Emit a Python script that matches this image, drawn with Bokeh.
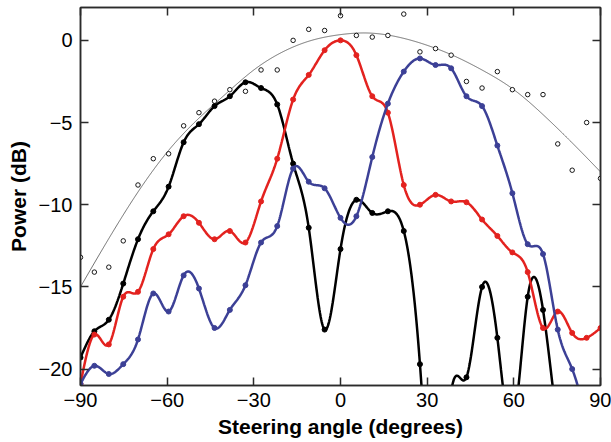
import numpy as np
from bokeh.plotting import figure
from bokeh.models import Range1d, LinearAxis, FixedTicker
from bokeh.embed import file_html
from bokeh.resources import INLINE

# ---------------- data ----------------
angles = [-90, -85.2, -80.2, -75.2, -70.1, -64.8, -59.5, -54.3, -49.0, -43.6,
          -38.3, -32.9, -27.5, -21.9, -16.4, -11.0, -5.5, 0.0, 5.5, 11.0,
          16.4, 21.9, 27.5, 32.9, 38.3, 43.6, 49.0, 54.3, 59.5, 64.8,
          70.1, 75.2, 80.2, 85.2, 90]

black_db = [-19.3, -17.7, -17.0, -14.8, -12.1, -10.4, -8.9, -6.2, -5.1, -4.0,
            -3.4, -2.55, -2.9, -3.9, -7.5, -11.4, -17.6, -12.7, -9.7, -10.5,
            -10.4, -11.6, -19.7, -30.0, -21.4, -20.5, -15.0, -18.1, -23.5, -15.6,
            -16.4, -23.5, -28.0, -30.0, -30.0]

red_db = [-20.9, -17.9, -18.5, -15.6, -15.3, -12.7, -11.8, -10.7, -11.1, -12.1,
          -11.6, -12.3, -9.8, -7.2, -3.6, -2.1, -0.6, 0.0, -0.9, -3.4,
          -4.4, -8.8, -10.0, -9.4, -9.8, -9.85, -10.9, -11.9, -12.9, -14.1,
          -17.5, -16.5, -17.8, -18.1, -17.5]

blue_db = [-20.9, -19.8, -20.3, -19.7, -18.2, -15.4, -16.5, -14.3, -15.1, -17.5,
           -16.4, -14.9, -12.3, -11.3, -7.8, -8.6, -9.0, -10.8, -10.7, -7.1,
           -3.85, -1.9, -1.1, -1.5, -1.7, -3.4, -4.0, -6.4, -9.3, -12.4,
           -13.0, -17.6, -20.0, -23.0, -26.0]

open_db = [-13.2, -14.1, -13.8, -12.2, -8.8, -7.2, -6.9, -5.2, -4.4, -3.7,
           -3.0, -3.1, -1.8, -1.8, 0.0, 0.67, 0.6, 1.5, 0.3, 0.2,
           0.3, 1.6, -0.7, -0.5, -0.9, -2.5, -2.9, -1.9, -3.0, -3.3,
           -3.3, -6.3, -7.9, -5.0, -8.4]

env_angles = [-90, -80, -70, -60, -50, -40, -30, -20, -10, 0, 9, 20, 30, 40, 50, 60, 70, 80, 90]
env_db = [-15.0, -12.0, -9.2, -6.8, -4.9, -3.3, -1.8, -0.7, 0.0, 0.35, 0.45, 0.2, -0.3, -1.0, -1.9, -3.0, -4.5, -6.2, -8.0]

x_ticks = [-90, -60, -30, 0, 30, 60, 90]
x_tick_labels = ["\u221290", "\u221260", "\u221230", "0", "30", "60", "90"]
y_ticks = [-20, -15, -10, -5, 0]
y_tick_labels = ["\u221220", "\u221215", "\u221210", "\u22125", "0"]


def smooth(x, y, n=900):
    """Natural cubic spline through the data points (for drawing only)."""
    x = np.asarray(x, float)
    y = np.asarray(y, float)
    m = len(x)
    h = np.diff(x)
    A = np.zeros((m, m))
    b = np.zeros(m)
    A[0, 0] = A[-1, -1] = 1.0
    for i in range(1, m - 1):
        A[i, i - 1] = h[i - 1]
        A[i, i] = 2 * (h[i - 1] + h[i])
        A[i, i + 1] = h[i]
        b[i] = 3 * ((y[i + 1] - y[i]) / h[i] - (y[i] - y[i - 1]) / h[i - 1])
    c = np.linalg.solve(A, b)
    bb = (y[1:] - y[:-1]) / h - h * (2 * c[:-1] + c[1:]) / 3
    d = (c[1:] - c[:-1]) / (3 * h)
    xs = np.linspace(x[0], x[-1], n)
    idx = np.clip(np.searchsorted(x, xs) - 1, 0, m - 2)
    dx = xs - x[idx]
    ys = y[idx] + bb[idx] * dx + c[idx] * dx ** 2 + d[idx] * dx ** 3
    return xs, ys


FONT = "Liberation Sans"
AX_COLOR = "#2b2b2b"

p = figure(width=611, height=442, x_range=Range1d(-90, 90), y_range=Range1d(-21, 2),
           output_backend="svg", toolbar_location=None,
           min_border_left=80, min_border_right=11, min_border_top=7, min_border_bottom=57)
p.xgrid.visible = False
p.ygrid.visible = False
p.outline_line_color = AX_COLOR
p.outline_line_width = 1.5
p.background_fill_color = "white"
p.border_fill_color = "white"


def style_axis(ax, ticks, labels=None):
    ax.ticker = FixedTicker(ticks=ticks)
    ax.major_tick_in = 8
    ax.major_tick_out = 0
    ax.minor_tick_line_color = None
    ax.axis_line_color = AX_COLOR
    ax.axis_line_width = 1.5
    ax.major_tick_line_color = AX_COLOR
    ax.major_tick_line_width = 1.5
    if labels is None:
        ax.major_label_text_font_size = "0px"
        ax.major_label_text_color = None
        ax.major_label_standoff = 0
    else:
        ax.major_label_overrides = {t: l for t, l in zip(ticks, labels)}
        ax.major_label_text_font = FONT
        ax.major_label_text_font_size = "20px"
        ax.major_label_text_color = "black"
        ax.axis_label_text_font = FONT
        ax.axis_label_text_font_size = "21px"
        ax.axis_label_text_font_style = "bold"
        ax.axis_label_text_color = "black"


style_axis(p.xaxis[0], x_ticks, x_tick_labels)
p.xaxis[0].axis_label = "Steering angle (degrees)"
p.xaxis[0].major_label_standoff = 7
p.xaxis[0].axis_label_standoff = 5
style_axis(p.yaxis[0], y_ticks, y_tick_labels)
p.yaxis[0].axis_label = "Power (dB)"
p.yaxis[0].major_label_standoff = 8
p.yaxis[0].axis_label_standoff = 6

top_ax = LinearAxis()
style_axis(top_ax, x_ticks)
p.add_layout(top_ax, "above")
right_ax = LinearAxis()
style_axis(right_ax, y_ticks)
p.add_layout(right_ax, "right")

# envelope
ex, ey = smooth(env_angles, env_db)
p.line(ex, ey, line_color="#4d4d4d", line_width=0.8)

# open circles
p.scatter(angles, open_db, marker="circle", size=4.5, fill_color="white",
          line_color="black", line_width=0.9)

series = [(black_db, "#000000"), (red_db, "#e3221f"), (blue_db, "#3c4096")]
for vals, col in series:
    sx, sy = smooth(angles, vals)
    p.line(sx, sy, line_color=col, line_width=2.5)
    p.scatter(angles, vals, marker="circle", size=5, fill_color=col, line_color=col)

open("out.html", "w").write(file_html(p, INLINE))
